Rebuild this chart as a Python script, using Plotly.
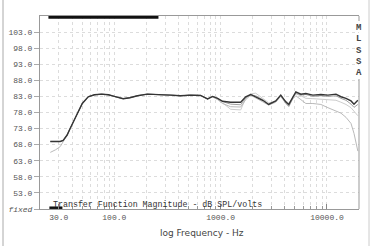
import plotly.graph_objects as go

# ---------------- data ----------------
freq_hz = [25, 28, 31, 33, 36, 38.4, 42, 45.4, 50, 56.8, 65, 76, 88, 100, 121, 140,
           165, 204, 271, 337, 419, 520, 647, 753, 840, 936, 1043, 1241, 1543, 1719,
           1915, 2137, 2486, 2830, 3297, 3675, 4096, 4374, 4768, 5094, 5678, 6328,
           7366, 8765, 10200, 12140, 13530, 15090, 16820, 17950, 19500]

main_db = [69.0, 69.0, 69.0, 69.3, 71.0, 73.0, 75.8, 78.0, 80.8, 82.9, 83.5, 83.7,
           83.5, 83.0, 82.3, 82.6, 83.2, 83.7, 83.6, 83.4, 83.2, 83.4, 83.3, 82.2,
           83.0, 82.4, 81.5, 81.2, 81.2, 82.9, 83.6, 82.9, 81.8, 80.5, 81.6, 83.4,
           81.3, 80.5, 82.9, 84.4, 83.7, 83.9, 83.4, 83.6, 83.4, 83.7, 82.9, 82.4,
           81.6, 80.6, 81.8]

light1_db = [65.6, 66.4, 67.4, 68.9, 71.0, 73.0, 75.8, 78.0, 80.8, 82.9, 83.5, 83.7,
             83.5, 83.0, 82.3, 82.6, 83.2, 83.7, 83.6, 83.4, 83.2, 83.4, 83.3, 82.2,
             82.8, 82.0, 80.8, 79.8, 79.7, 82.0, 83.4, 82.6, 81.5, 80.3, 81.2, 83.0,
             80.8, 79.8, 82.2, 83.2, 82.0, 80.8, 80.8, 80.5, 79.5, 78.5, 77.8, 76.5,
             74.6, 71.5, 66.0]

light2_db = [69.0, 69.0, 69.0, 69.3, 71.0, 73.0, 75.8, 78.0, 80.8, 82.9, 83.5, 83.7,
             83.5, 83.0, 82.3, 82.6, 83.2, 83.7, 83.6, 83.4, 83.2, 83.4, 83.3, 82.2,
             82.9, 82.2, 81.0, 79.0, 78.8, 82.4, 83.8, 84.0, 82.4, 81.0, 81.4, 83.2,
             81.6, 80.9, 82.6, 83.8, 83.2, 82.4, 82.3, 82.2, 82.0, 81.8, 81.2, 80.5,
             79.5, 78.5, 77.0]

light3_db = [69.0, 69.0, 69.0, 69.3, 71.0, 73.0, 75.8, 78.0, 80.8, 82.9, 83.5, 83.7,
             83.5, 83.0, 82.3, 82.6, 83.2, 83.7, 83.6, 83.4, 83.2, 83.4, 83.3, 82.2,
             83.0, 82.4, 81.4, 80.6, 80.4, 82.6, 83.5, 83.2, 82.0, 80.6, 81.5, 83.2,
             81.0, 80.0, 82.6, 84.0, 83.4, 83.6, 83.0, 83.2, 83.0, 83.2, 82.4, 81.8,
             80.6, 79.6, 80.5]

y_tick_vals = [48, 53, 58, 63, 68, 73, 78, 83, 88, 93, 98, 103]
y_tick_text = ["<i>fixed</i>", "53.0", "58.0", "63.0", "68.0", "73.0", "78.0",
               "83.0", "88.0", "93.0", "98.0", "103.0"]
x_tick_vals = [30, 100, 1000, 10000]
x_tick_text = ["30.0", "100.0", "1000.0", "10000.0"]
x_minor_vals = [20, 40, 50, 60, 70, 80, 90, 200, 300, 400, 500, 600, 700, 800, 900,
                2000, 3000, 4000, 5000, 6000, 7000, 8000, 9000]

top_bar_hz = [24, 260]
bottom_bar_hz = [24.5, 32.5]

side_letters = ["M", "L", "S", "S", "A"]

# ---------------- figure ----------------
W, H = 371, 249
L, R, T, B = 40, 12, 16, 40
pw, ph = W - L - R, H - T - B

def px(xp):
    return (xp - L) / pw

def py(yp):
    return (H - B - yp) / ph

mono = "Liberation Mono"
fig = go.Figure()

for db, col, wd in [(light2_db, "#cdcdcd", 1.0), (light1_db, "#bababa", 1.0),
                    (light3_db, "#a0a0a0", 1.0), (main_db, "#353535", 1.4)]:
    fig.add_trace(go.Scatter(x=freq_hz, y=db, mode="lines",
                             line=dict(color=col, width=wd), showlegend=False,
                             hoverinfo="skip"))

fig.add_trace(go.Scatter(x=top_bar_hz, y=[107.7, 107.7], mode="lines",
                         line=dict(color="#111111", width=3.5), cliponaxis=False,
                         showlegend=False, hoverinfo="skip"))
fig.add_trace(go.Scatter(x=bottom_bar_hz, y=[48.4, 48.4], mode="lines",
                         line=dict(color="#111111", width=2.5), cliponaxis=False,
                         showlegend=False, hoverinfo="skip"))

fig.update_xaxes(type="log", range=[1.30103, 4.30103], automargin=False,
                 tickvals=x_tick_vals, ticktext=x_tick_text,
                 ticks="inside", ticklen=5, tickcolor="#888", tickwidth=1,
                 showline=True, linecolor="#999", linewidth=1, mirror=True,
                 showgrid=True, gridcolor="#dcdcdc", griddash="dot", gridwidth=1,
                 minor=dict(tickvals=x_minor_vals, ticks="inside", ticklen=3,
                            tickcolor="#999", showgrid=True, gridcolor="#dcdcdc",
                            griddash="dot", gridwidth=1),
                 tickfont=dict(family=mono, size=8, color="#555"),
                 zeroline=False)
fig.update_yaxes(range=[48, 108], tickvals=y_tick_vals, ticktext=y_tick_text,
                 automargin=False,
                 ticks="outside", ticklen=5, tickcolor="#aaa",
                 showline=True, linecolor="#999", linewidth=1, mirror=False,
                 showgrid=True, gridcolor="#dcdcdc", griddash="dot", gridwidth=1,
                 tickfont=dict(family=mono, size=8, color="#555"),
                 zeroline=False)

shapes = [
    dict(type="line", xref="paper", yref="paper", x0=1, x1=1, y0=0, y1=py(79),
         line=dict(color="#999", width=1)),
    dict(type="line", xref="paper", yref="paper", x0=1, x1=1, y0=py(21), y1=1,
         line=dict(color="#999", width=1)),
    dict(type="line", xref="paper", yref="paper", x0=px(3), x1=px(3), y0=py(0),
         y1=py(246), line=dict(color="#aaa", width=1)),
    dict(type="line", xref="paper", yref="paper", x0=px(369), x1=px(369), y0=py(0),
         y1=py(246), line=dict(color="#ccc", width=1)),
]

annotations = [
    dict(text="Transfer Function Magnitude - dB SPL/volts", xref="paper",
         yref="paper", x=px(51), y=py(204), xanchor="left", yanchor="middle",
         showarrow=False, font=dict(family=mono, size=8.3, color="#333")),
    dict(text="log Frequency - Hz", xref="paper", yref="paper", x=px(202),
         y=py(233), xanchor="center", yanchor="middle", showarrow=False,
         font=dict(family="DejaVu Sans", size=9, color="#444")),
]
for i, ch in enumerate(side_letters):
    annotations.append(dict(text="<b>" + ch + "</b>", xref="paper", yref="paper",
                            x=px(358.5), y=py(28 + i * 11.3), xanchor="center",
                            yanchor="middle", showarrow=False,
                            font=dict(family=mono, size=9, color="#444")))

fig.update_layout(width=W, height=H, margin=dict(l=L, r=R, t=T, b=B),
                  paper_bgcolor="white", plot_bgcolor="white",
                  shapes=shapes, annotations=annotations)

fig.write_html("out.html", config={"displayModeBar": False},
               post_script="document.body.style.margin='0';"
                           "document.body.style.overflow='hidden';")
